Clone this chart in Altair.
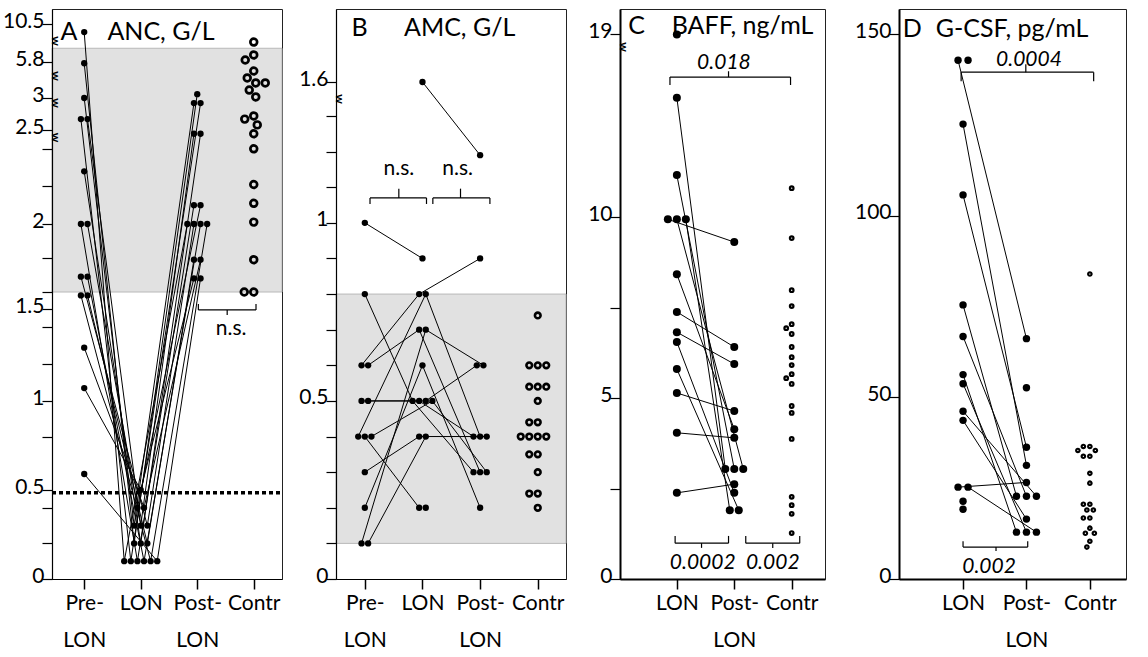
import json
import numpy as np
import pandas as pd
import altair as alt

FONT = "Lato"
H = 570

# ---------------- values ----------------
# Panel A: ANC, G/L (patients: Pre-LON, LON, Post-LON)
A_cats = ["Pre-\nLON", "LON", "Post-\nLON", "Contr"]
A_pre = [9.5, 5.7, 3.0, 2.67, 2.67, 2.28, 2.0, 2.0, 1.69, 1.69, 1.58, 1.58, 1.29, 1.07, 0.59]
A_lon = [0.1, 0.2, 0.3, 0.1, 0.3, 0.2, 0.1, 0.4, 0.3, 0.1, 0.1, 0.2, 0.4, 0.5, 0.1]
A_post = [2.0, 3.3, 2.92, 2.92, 2.48, 2.48, 2.1, 2.1, 2.0, 2.0, 2.0, 1.79, 1.79, 1.68, 1.68]
A_contr = [8.27, 6.67, 6.05, 5.1, 4.56, 4.17, 4.17, 3.62, 3.08, 2.72, 2.67, 2.58,
           2.48, 2.4, 2.21, 2.11, 2.01, 1.79, 1.6, 1.6]
A_ydom = [0, 0.5, 1, 1.5, 2, 2.5, 3, 5.8, 10.5, 12.4]
A_ytick = [0, 0.2, 0.4, 0.5, 0.8, 1, 1.2, 1.4, 1.5, 1.6, 1.8, 2, 2.2, 2.4, 2.5, 3, 5.8, 10.5]
A_ylab = [0, 0.5, 1, 1.5, 2, 2.5, 3, 5.8, 10.5]
A_band = [1.6, 7.5]
A_cutoff = 0.485

# Panel B: AMC, G/L
B_cats = ["Pre-\nLON", "LON", "Post-\nLON", "Contr"]
B_pre = [1.0, 0.8, 0.6, 0.6, 0.5, 0.5, 0.4, 0.4, 0.4, 0.3, 0.2, 0.1, 0.1, None, None]
B_lon = [0.9, 0.5, 0.8, 0.7, 0.5, 0.5, 0.8, 0.2, 0.5, 0.4, 0.6, 0.7, 0.4, 1.6, 0.2]
B_post = [None, 0.3, 0.9, 0.3, 0.4, 0.6, 0.4, None, 0.3, 0.4, 0.2, 0.6, None, 1.19, None]
B_contr = [0.74, 0.6, 0.6, 0.6, 0.54, 0.54, 0.54, 0.5, 0.44, 0.44, 0.4, 0.4, 0.4, 0.4,
           0.35, 0.35, 0.3, 0.24, 0.24, 0.2]
B_ydom = [0, 1.3, 1.6, 2.26]
B_ytick = [0, 0.1, 0.2, 0.3, 0.4, 0.5, 0.6, 0.7, 0.8, 0.9, 1, 1.1, 1.2, 1.3, 1.6]
B_ylab = [0, 0.5, 1, 1.6]
B_band = [0.1, 0.8]

# Panel C: BAFF, ng/mL
C_cats = ["LON", "Post-\nLON", "Contr"]
C_lon = [18.8, 13.3, 11.16, 9.94, 9.94, 9.94, 8.42, 7.38, 6.82, 6.55, 5.8, 5.14, 4.04, 2.38]
C_post = [None, 3.04, 3.04, 9.31, 3.04, 1.9, 4.14, 6.41, 5.94, 2.38, 1.9, 4.64, 3.9, 2.62]
C_contr = [10.8, 9.42, 7.98, 7.54, 7.04, 6.93, 6.77, 6.41, 6.13, 5.91, 5.66, 5.55, 5.39,
           4.78, 4.59, 3.87, 2.27, 2.04, 1.8, 1.27]
C_ydom = [0, 14.7, 19, 26.2]
C_ytick = [0, 2.5, 5, 7.5, 10, 19]
C_ylab = [0, 5, 10, 19]

# Panel D: G-CSF, pg/mL
D_cats = ["LON", "Post-\nLON", "Contr"]
D_lon = [142.9, 142.9, 125.3, 105.8, 75.5, 66.8, 56.3, 53.8, 46.2, 43.7, 25.3, 25.3, 21.4, 19.2, None]
D_post = [66.2, None, 31.3, 36.3, 22.8, 22.8, 12.9, 12.9, 22.8, 16.5, 26.6, 12.9, None, None, 52.7]
D_contr = [84, 36.5, 36.5, 35.4, 35.4, 33.8, 33.8, 29.1, 26.4, 20.6, 20.6, 19, 19, 16.8, 16.8,
           14, 12.6, 12.6, 10.4, 8.8]
D_ydom = [0, 157]
D_ytick = [0, 50, 100, 150]
D_ylab = [0, 50, 100, 150]

# annotations: brackets (x1, x2, y, y_end, x_mid, y_mid) and texts (label, x, y)
A_brackets = [(2.02, 3.04, 1.495, 1.53, 2.53, 1.467)]
A_texts = [("n.s.", 2.6, 1.39)]
B_brackets = [(0.09, 1.07, 1.07, 1.053, 0.59, 1.096), (1.18, 2.17, 1.07, 1.053, 1.66, 1.096)]
B_texts = [("n.s.", 0.59, 1.15), ("n.s.", 1.61, 1.15)]
C_brackets = [(-0.12, 1.98, 13.87, 13.65, 0.9, 14.03),
              (-0.03, 0.9, 0.99, 1.19, 0.43, 0.86),
              (1.2, 2.14, 0.99, 1.19, 1.67, 0.86)]
C_texts = [("0.018", 0.82, 14.25), ("0.0002", 0.45, 0.44), ("0.002", 1.67, 0.44)]
D_brackets = [(-0.03, 2.06, 139.6, 137.1, 0.99, 141.8), (0.0, 1.02, 8.8, 10.4, 0.52, 7.7)]
D_texts = [("0.0004", 1.04, 142.9), ("0.002", 0.41, 3.3)]

A_title = ("A", "ANC, G/L", -0.27, 0.41, 9.5)
B_title = ("B", "AMC, G/L", -0.09, 0.68, 2.09)
C_title = ("C", "BAFF, ng/mL", -0.7, -0.09, 21.3)
D_title = ("D", "G-CSF, pg/mL", -0.8, -0.43, 151.4)

A_breaks = [8.4, 4.7, 2.92, 2.46]
B_breaks = [1.45]
C_breaks = [14.7]
D_breaks = []

# pixel ranges for the broken (piecewise) axes, measured from the plot top
A_yrng = [570, 481, 392, 300, 215, 121, 89, 53, 15, 0]
B_yrng = [570, 107, 73, 0]
C_yrng = [570, 38, 25, 0]
D_yrng = [570, 0]


# ---------------- helpers ----------------
def tie_offsets(values, step):
    offs = [0.0] * len(values)
    groups = {}
    for i, v in enumerate(values):
        if v is None:
            continue
        groups.setdefault(round(v, 4), []).append(i)
    for idxs in groups.values():
        n = len(idxs)
        for k, i in enumerate(idxs):
            offs[i] = (k - (n - 1) / 2) * step
    return offs


def beeswarm(values, ypx, d):
    placed = []
    res = [0.0] * len(values)
    cands = [0]
    for k in range(1, 60):
        cands += [-k * 0.5, k * 0.5]
    for i in sorted(range(len(values)), key=lambda j: -values[j]):
        y = ypx(values[i])
        xx = 0
        for c in cands:
            if all((c - px) ** 2 + (y - py) ** 2 >= d * d for px, py in placed):
                xx = c
                break
        placed.append((xx, y))
        res[i] = xx
    return res


def make_panel(cats, series, contr, ydom, yrng, ytick, ylab, xdom, width, ppu,
               dot_size, dot_step, ring_size, ring_w, ring_d, dom_w,
               brackets, texts, title, breaks, band=None, cutoff=None):
    ncat = len(cats)
    ypx = lambda v: float(np.interp(v, ydom, yrng))

    rows = []
    for g, vals in enumerate(series):
        offs = tie_offsets(vals, dot_step / ppu)
        for pid, v in enumerate(vals):
            if v is None:
                continue
            rows.append({"pid": pid, "x": g + offs[pid], "v": v})
    pts = pd.DataFrame(rows)
    coffs = beeswarm(contr, ypx, ring_d)
    ctl = pd.DataFrame({"x": [ncat - 1 + o / ppu for o in coffs], "v": contr})

    xlab_expr = json.dumps([c.split("\n") for c in cats]) + "[datum.value]"
    ylab_expr = "indexof(" + json.dumps(ylab) + ", datum.value) >= 0 ? '' + datum.value : ''"

    xenc = alt.X("x:Q", scale=alt.Scale(domain=xdom, nice=False, zero=False),
                 axis=alt.Axis(values=list(range(ncat)), labelExpr=xlab_expr, title=None,
                               grid=False, tickSize=10, labelPadding=3, labelLineHeight=37,
                               labelOverlap=False, labelFlush=False, domainWidth=dom_w,
                               tickWidth=1.5, zindex=1))
    yenc = alt.Y("v:Q", scale=alt.Scale(domain=ydom, range=yrng, nice=False, zero=False),
                 axis=alt.Axis(values=ytick, labelExpr=ylab_expr, title=None, grid=False,
                               tickSize=10, labelPadding=-2, labelOffset=-3,
                               domainWidth=dom_w, tickWidth=1.2, zindex=1))

    layers = []
    if band is not None:
        bdf = pd.DataFrame({"x": [xdom[0]], "x2": [xdom[1]], "v": [band[0]], "v2": [band[1]]})
        layers.append(alt.Chart(bdf).mark_rect(fill="#e1e1e1", stroke="#b8b8b8", strokeWidth=1)
                      .encode(x=xenc, x2="x2:Q", y=yenc, y2="v2:Q"))
    if cutoff is not None:
        cdf = pd.DataFrame({"x": [xdom[0]], "x2": [xdom[1]], "v": [cutoff]})
        layers.append(alt.Chart(cdf).mark_rule(color="black", strokeWidth=3.5, strokeDash=[4, 3])
                      .encode(x=xenc, x2="x2:Q", y=yenc))
    layers.append(alt.Chart(pts).mark_line(color="black", strokeWidth=1)
                  .encode(x=xenc, y=yenc, detail="pid:N"))
    layers.append(alt.Chart(pts).mark_circle(color="black", opacity=1, size=dot_size)
                  .encode(x=xenc, y=yenc))
    layers.append(alt.Chart(ctl).mark_point(shape="circle", filled=False, color="black",
                                            opacity=1, strokeWidth=ring_w, size=ring_size)
                  .encode(x=xenc, y=yenc))
    segs = []
    for (x1, x2, y, ye, xm, ym) in brackets:
        segs.append({"x": x1, "x2": x2, "v": y, "v2": y})
        segs.append({"x": x1, "x2": x1, "v": y, "v2": ye})
        segs.append({"x": x2, "x2": x2, "v": y, "v2": ye})
        segs.append({"x": xm, "x2": xm, "v": y, "v2": ym})
    if segs:
        layers.append(alt.Chart(pd.DataFrame(segs)).mark_rule(color="black", strokeWidth=1.2)
                      .encode(x=xenc, x2="x2:Q", y=yenc, y2="v2:Q"))
    if texts:
        tdf = pd.DataFrame(texts, columns=["t", "x", "v"])
        italic = "italic" if texts[0][0][0].isdigit() else "normal"
        layers.append(alt.Chart(tdf).mark_text(font=FONT, fontSize=21, fontStyle=italic,
                                               color="black", baseline="middle")
                      .encode(x=xenc, y=yenc, text="t:N"))
    letter, name, xl, xn, yt = title
    layers.append(alt.Chart(pd.DataFrame({"t": [letter], "x": [xl], "v": [yt]}))
                  .mark_text(font=FONT, fontSize=25, color="black", baseline="middle")
                  .encode(x=xenc, y=yenc, text="t:N"))
    layers.append(alt.Chart(pd.DataFrame({"t": [name], "x": [xn], "v": [yt]}))
                  .mark_text(font=FONT, fontSize=25, color="black", baseline="middle", align="left")
                  .encode(x=xenc, y=yenc, text="t:N"))
    if breaks:
        kdf = pd.DataFrame({"t": ["w"] * len(breaks), "x": [xdom[0] + 4 / ppu] * len(breaks), "v": breaks})
        layers.append(alt.Chart(kdf).mark_text(font=FONT, fontSize=12, fontWeight="bold",
                                               angle=90, color="black", baseline="middle")
                      .encode(x=xenc, y=yenc, text="t:N"))
    return alt.layer(*layers).properties(width=width, height=H)


pA = make_panel(A_cats, [A_pre, A_lon, A_post], A_contr, A_ydom, A_yrng, A_ytick, A_ylab,
                [-0.57, 3.5], 230, 56.5, 40, 6.6, 46, 2.7, 9.5, 1.2,
                A_brackets, A_texts, A_title, A_breaks, band=A_band, cutoff=A_cutoff)
pB = make_panel(B_cats, [B_pre, B_lon, B_post], B_contr, B_ydom, B_yrng, B_ytick, B_ylab,
                [-0.5, 3.49], 230, 57.6, 40, 6.6, 32, 2.6, 8.5, 1.2,
                B_brackets, B_texts, B_title, B_breaks, band=B_band)
pC = make_panel(C_cats, [C_lon, C_post], C_contr, C_ydom, C_yrng, C_ytick, C_ylab,
                [-0.99, 2.58], 205, 57.5, 64, 9.0, 13, 2.2, 6.5, 2,
                C_brackets, C_texts, C_title, C_breaks)
pD = make_panel(D_cats, [D_lon, D_post], D_contr, D_ydom, D_yrng, D_ytick, D_ylab,
                [-1.01, 2.57], 227, 63.5, 55, 10.0, 12, 2.2, 6.5, 2,
                D_brackets, D_texts, D_title, D_breaks)

chart = alt.hconcat(
    alt.hconcat(pA, pB, pC, spacing=54, bounds="flush"),
    pD, spacing=27
).properties(
    padding={"left": 2, "right": 10, "top": 8, "bottom": 2}
).configure_view(
    stroke="#222", strokeWidth=1
).configure_axis(
    labelFont=FONT, labelFontSize=21, labelColor="black",
    domainColor="black", tickColor="black"
)

chart.save("out.html", embed_options={"renderer": "svg", "actions": False})
